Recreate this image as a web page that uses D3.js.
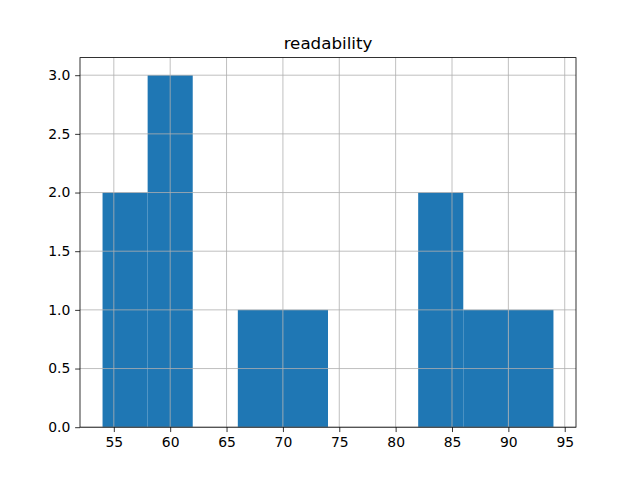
<!DOCTYPE html>
<html><head><meta charset="utf-8">
<script src="https://cdn.jsdelivr.net/npm/d3@7"></script>
<style>body{margin:0;background:#fff}svg{display:block}</style>
</head><body>
<script>
const binEdges = [54, 58, 62, 66, 70, 74, 78, 82, 86, 90, 94];
const counts = [2, 3, 0, 1, 1, 0, 0, 2, 1, 1];
const xTicks = [55, 60, 65, 70, 75, 80, 85, 90, 95];
const yTicks = [0, 0.5, 1.0, 1.5, 2.0, 2.5, 3.0];
const title = "readability";

const W = 640, H = 480;
const m = {l: 80, r: 64, t: 57.6, b: 52.8};
const svg = d3.select("body").append("svg").attr("width", W).attr("height", H);
const x = d3.scaleLinear().domain([52, 96]).range([m.l, W - m.r]);
const y = d3.scaleLinear().domain([0, 3.15]).range([H - m.b, m.t]);
const font = "DejaVu Sans, sans-serif";

const bins = counts.map((c, i) => ({x0: binEdges[i], x1: binEdges[i + 1], c}));
svg.append("g").selectAll("rect").data(bins.filter(d => d.c > 0)).join("rect")
  .attr("x", d => x(d.x0)).attr("width", d => x(d.x1) - x(d.x0))
  .attr("y", d => y(d.c)).attr("height", d => y(0) - y(d.c))
  .attr("fill", "#1f77b4");

// grid (above patches)
const grid = svg.append("g").attr("stroke", "#b0b0b0").attr("stroke-width", 0.8);
grid.selectAll("line.gx").data(xTicks).join("line")
  .attr("x1", d => x(d)).attr("x2", d => x(d)).attr("y1", y(0)).attr("y2", y(3.15));
grid.selectAll("line.gy").data(yTicks).join("line")
  .attr("x1", x(52)).attr("x2", x(96)).attr("y1", d => y(d)).attr("y2", d => y(d));

const xa = svg.append("g").attr("transform", `translate(0,${H - m.b})`)
  .call(d3.axisBottom(x).tickValues(xTicks).tickSize(4.86).tickPadding(4.86).tickFormat(d3.format("d")));
const ya = svg.append("g").attr("transform", `translate(${m.l},0)`)
  .call(d3.axisLeft(y).tickValues(yTicks).tickSize(4.86).tickPadding(4.86).tickFormat(d3.format(".1f")));
[xa, ya].forEach(a => {
  a.select(".domain").remove();
  a.selectAll(".tick line").attr("stroke", "#000").attr("stroke-width", 0.8);
  a.selectAll("text").attr("font-family", font).attr("font-size", "13.9px").attr("fill", "#000");
});

// spines
svg.append("rect").attr("x", m.l).attr("y", m.t).attr("width", W - m.l - m.r).attr("height", H - m.t - m.b)
  .attr("fill", "none").attr("stroke", "#000").attr("stroke-width", 0.8);

svg.append("text").attr("x", (m.l + W - m.r) / 2).attr("y", m.t - 8.3)
  .attr("text-anchor", "middle").attr("font-family", font).attr("font-size", "16.7px").text(title);
</script>
</body></html>
